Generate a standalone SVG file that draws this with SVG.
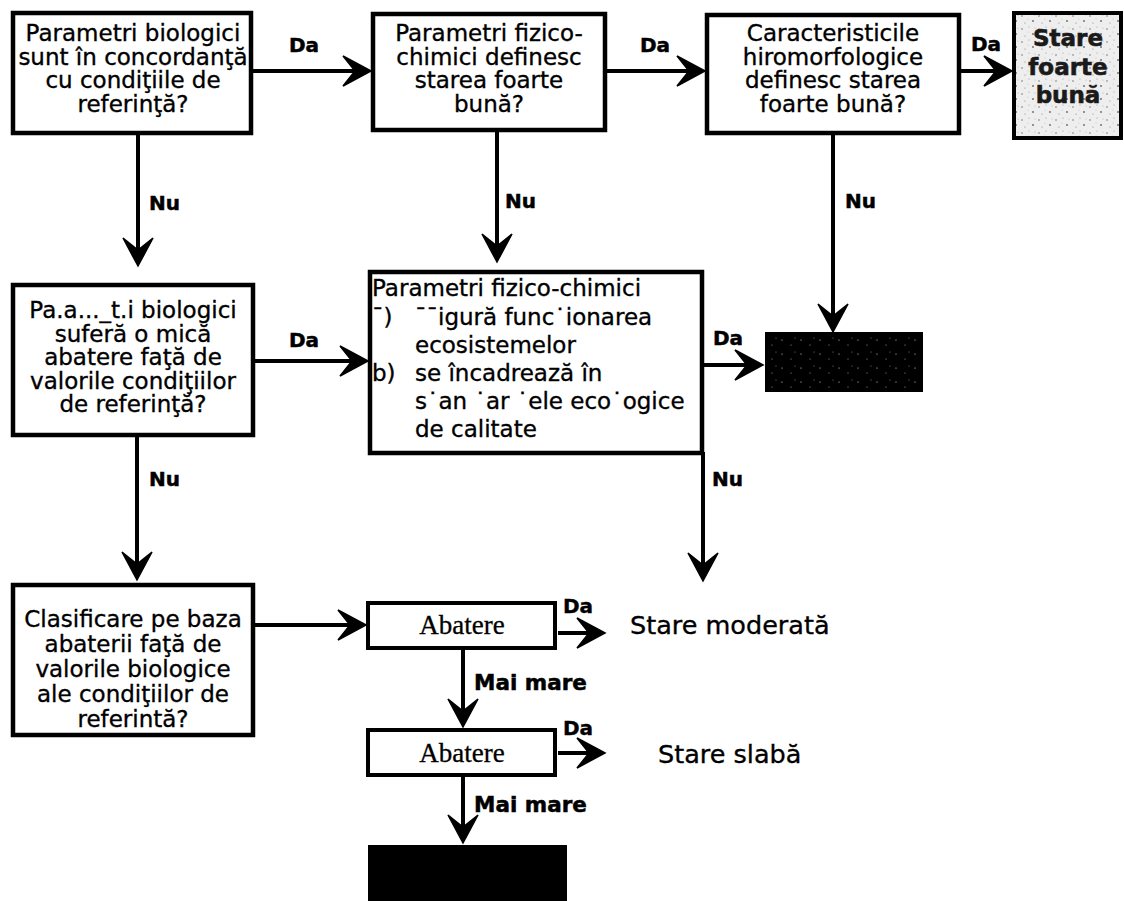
<svg xmlns="http://www.w3.org/2000/svg" width="1124" height="901" viewBox="0 0 1124 901">
  <style>
    .box { fill: #ffffff; stroke: #000000; stroke-width: 4.5; }
    .sbox { fill: #ffffff; stroke: #000000; stroke-width: 4; }
    .txt { font-family: "DejaVu Sans", Verdana, sans-serif; font-size: 23px; fill: #000000; stroke: #000000; stroke-width: 0.35; }
    .ctr { text-anchor: middle; }
    .lbl { font-family: "DejaVu Sans", Verdana, sans-serif; font-weight: bold; font-size: 20px; fill: #000000; stroke: #000000; stroke-width: 0.5; }
    .lbl-m { font-family: "DejaVu Sans", Verdana, sans-serif; font-weight: bold; font-size: 21.5px; fill: #000000; stroke: #000000; stroke-width: 0.5; }
    .lbl-s { font-family: "DejaVu Sans", Verdana, sans-serif; font-weight: bold; font-size: 20px; fill: #000000; stroke: #000000; stroke-width: 0.4; }
    .ser { font-family: "Liberation Serif", "Times New Roman", serif; font-size: 27px; fill: #000000; text-anchor: middle; stroke: #000000; stroke-width: 0.3; }
    .state { font-family: "DejaVu Sans", Verdana, sans-serif; font-size: 25.5px; fill: #000000; stroke: #000000; stroke-width: 0.35; }
    .vg { font-family: "DejaVu Sans", Verdana, sans-serif; font-weight: bold; font-size: 23px; fill: #1a1a1a; text-anchor: middle; stroke: #1a1a1a; stroke-width: 0.6; }
    .link { fill: none; stroke: #000000; stroke-width: 4; marker-end: url(#head); }
  </style>
  <defs>
    <!-- barbed arrowhead; the line ends at the notch, the tip sits 16px further on -->
    <marker id="head" markerUnits="userSpaceOnUse" markerWidth="40" markerHeight="40" refX="0" refY="0" orient="auto" overflow="visible">
      <path d="M16,0 L-12,-15 L0,0 L-12,15 Z" fill="#000000" stroke="#000000" stroke-width="1.5" stroke-linejoin="miter"/>
    </marker>
    <!-- grainy light-grey fill -->
    <pattern id="grain-light" width="17" height="13" patternUnits="userSpaceOnUse">
      <rect width="17" height="13" fill="#eeeeee"/>
      <circle cx="2" cy="3" r="0.8" fill="#777777"/>
      <circle cx="9" cy="1" r="0.6" fill="#999999"/>
      <circle cx="13" cy="8" r="0.9" fill="#666666"/>
      <circle cx="5" cy="10" r="0.6" fill="#888888"/>
      <circle cx="15" cy="2" r="0.5" fill="#aaaaaa"/>
      <circle cx="8" cy="6" r="0.5" fill="#bbbbbb"/>
    </pattern>
    <!-- black fill with fine white specks -->
    <pattern id="grain-dark" width="19" height="14" patternUnits="userSpaceOnUse">
      <rect width="19" height="14" fill="#000000"/>
      <circle cx="3" cy="4" r="0.6" fill="#dddddd"/>
      <circle cx="12" cy="9" r="0.5" fill="#bbbbbb"/>
      <circle cx="16" cy="2" r="0.5" fill="#999999"/>
    </pattern>
  </defs>

  <rect width="1124" height="901" fill="#ffffff"/>

  <!-- connectors -->
  <g id="connectors">
    <path class="link" d="M251,71 H355"/>
    <path class="link" d="M605,71 H689"/>
    <path class="link" d="M959,71 H996"/>
    <path class="link" d="M138,133 V250"/>
    <path class="link" d="M497,130 V246"/>
    <path class="link" d="M833,133 V316"/>
    <path class="link" d="M253,361 H352"/>
    <path class="link" d="M703,365 H747"/>
    <path class="link" d="M703,452 V565"/>
    <path class="link" d="M137,435 V564"/>
    <path class="link" d="M253,625 H350"/>
    <path class="link" d="M558,633 H589"/>
    <path class="link" d="M463,650 V711"/>
    <path class="link" d="M558,753 H589"/>
    <path class="link" d="M463,777 V827"/>

    <text class="lbl" x="289" y="52">Da</text>
    <text class="lbl" x="640" y="52">Da</text>
    <text class="lbl" x="971" y="51">Da</text>
    <text class="lbl" x="149" y="210">Nu</text>
    <text class="lbl" x="505" y="208">Nu</text>
    <text class="lbl" x="845" y="208">Nu</text>
    <text class="lbl" x="289" y="347">Da</text>
    <text class="lbl" x="713" y="345">Da</text>
    <text class="lbl" x="149" y="486">Nu</text>
    <text class="lbl" x="712" y="486">Nu</text>
    <text class="lbl-s" x="563" y="613">Da</text>
    <text class="lbl-s" x="563" y="735">Da</text>
    <text class="lbl-m" x="474" y="690">Mai mare</text>
    <text class="lbl-m" x="474" y="812">Mai mare</text>
  </g>

  <g id="bio-ref">
    <rect class="box" x="13" y="13" width="238" height="120"/>
    <text class="txt ctr" x="133" y="41">Parametri biologici</text>
    <text class="txt ctr" x="133" y="64.5">sunt în concordanţă</text>
    <text class="txt ctr" x="133" y="88">cu condiţiile de</text>
    <text class="txt ctr" x="133" y="111.5">referinţă?</text>
  </g>

  <g id="phys-chem">
    <rect class="box" x="373" y="14" width="232" height="116"/>
    <text class="txt ctr" x="489" y="41">Parametri fizico-</text>
    <text class="txt ctr" x="489" y="64.5">chimici definesc</text>
    <text class="txt ctr" x="489" y="88">starea foarte</text>
    <text class="txt ctr" x="489" y="111.5">bună?</text>
  </g>

  <g id="hydromorph">
    <rect class="box" x="707" y="15" width="252" height="118"/>
    <text class="txt ctr" x="833" y="41">Caracteristicile</text>
    <text class="txt ctr" x="833" y="64.5">hiromorfologice</text>
    <text class="txt ctr" x="833" y="88">definesc starea</text>
    <text class="txt ctr" x="833" y="111.5">foarte bună?</text>
  </g>

  <g id="very-good">
    <rect x="1014" y="13" width="107" height="125" fill="url(#grain-light)" stroke="#000000" stroke-width="4"/>
    <text class="vg" x="1068" y="46">Stare</text>
    <text class="vg" x="1068" y="75">foarte</text>
    <text class="vg" x="1068" y="103">bună</text>
  </g>

  <g id="bio-small-dev">
    <rect class="box" x="13" y="285" width="240" height="150"/>
    <text class="txt ctr" x="133" y="318">Pa.a..._t.i biologici</text>
    <text class="txt ctr" x="133" y="341.5">suferă o mică</text>
    <text class="txt ctr" x="133" y="365">abatere faţă de</text>
    <text class="txt ctr" x="133" y="388.5">valorile condiţiilor</text>
    <text class="txt ctr" x="133" y="412">de referinţă?</text>
  </g>

  <g id="phys-chem-eco">
    <rect class="box" x="370" y="272" width="332" height="181"/>
    <text class="txt" x="372" y="296">Parametri fizico-chimici</text>
    <text class="txt" x="372" y="325">¯)</text>
    <text class="txt" x="415" y="325">¯¯igură func˙ionarea</text>
    <text class="txt" x="415" y="353">ecosistemelor</text>
    <text class="txt" x="372" y="381">b)</text>
    <text class="txt" x="415" y="381">se încadrează în</text>
    <text class="txt" x="415" y="409">s˙an ˙ar ˙ele eco˙ogice</text>
    <text class="txt" x="415" y="437">de calitate</text>
  </g>

  <g id="good">
    <rect x="765" y="332" width="158" height="60" fill="url(#grain-dark)"/>
  </g>

  <g id="classify">
    <rect class="box" x="13" y="585" width="240" height="150"/>
    <text class="txt ctr" x="133" y="627">Clasificare pe baza</text>
    <text class="txt ctr" x="133" y="652">abaterii faţă de</text>
    <text class="txt ctr" x="133" y="677">valorile biologice</text>
    <text class="txt ctr" x="133" y="702">ale condiţiilor de</text>
    <text class="txt ctr" x="133" y="727">referintă?</text>
  </g>

  <g id="deviation-1">
    <rect class="sbox" x="368" y="603" width="187" height="45"/>
    <text class="ser" x="462" y="634">Abatere</text>
  </g>

  <g id="moderate">
    <text class="state" x="630" y="634">Stare moderată</text>
  </g>

  <g id="deviation-2">
    <rect class="sbox" x="368" y="730" width="187" height="45"/>
    <text class="ser" x="462" y="762">Abatere</text>
  </g>

  <g id="poor">
    <text class="state" x="658" y="763">Stare slabă</text>
  </g>

  <g id="bad">
    <rect x="368" y="845" width="199" height="60" fill="#000000"/>
  </g>
</svg>
